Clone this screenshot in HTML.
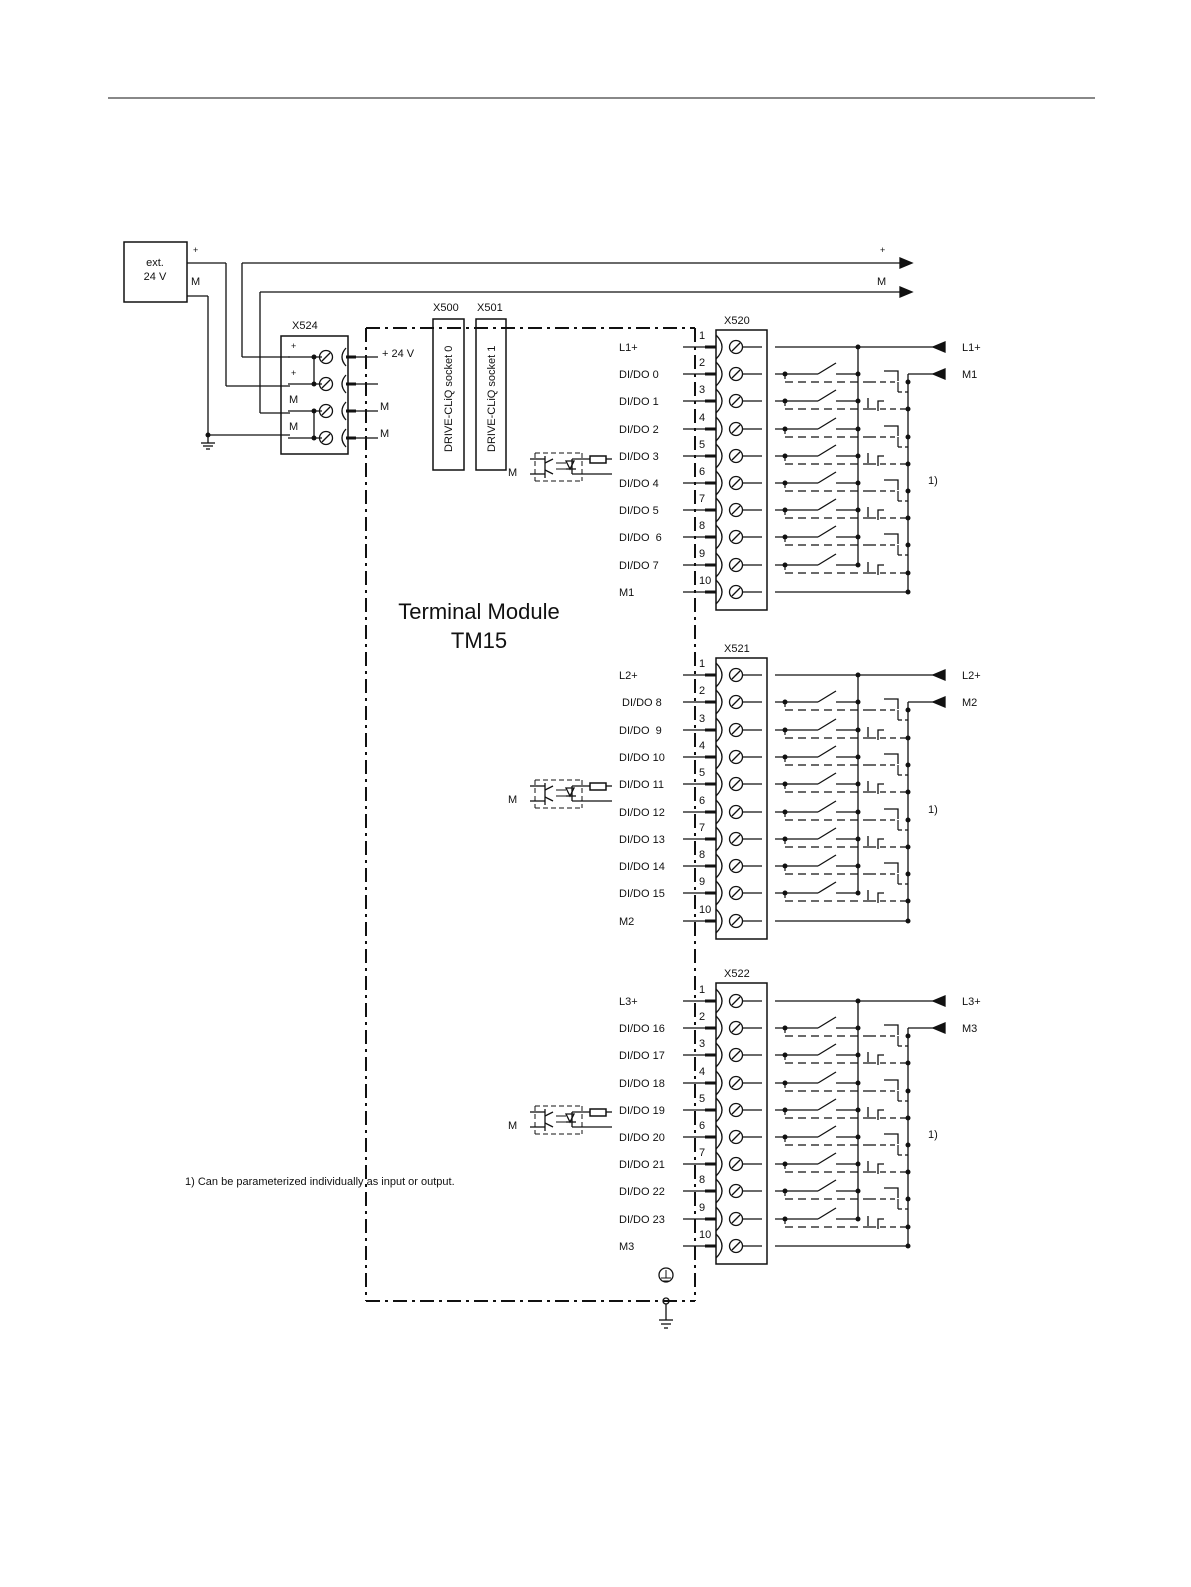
<!DOCTYPE html>
<html><head><meta charset="utf-8"><style>
body{margin:0;background:#fff;}
svg{display:block;font-family:"Liberation Sans",sans-serif;}
</style></head><body>
<svg id="s" width="1191" height="1587" viewBox="0 0 1191 1587" xmlns="http://www.w3.org/2000/svg"></svg>
<script>
var o=[];
function L(x1,y1,x2,y2,w,d){o.push('<line x1="'+x1+'" y1="'+y1+'" x2="'+x2+'" y2="'+y2+'" stroke="#111" stroke-width="'+(w||1.3)+'"'+(d?' stroke-dasharray="'+d+'"':'')+'/>');}
function R(x,y,w,h){o.push('<rect x="'+x+'" y="'+y+'" width="'+w+'" height="'+h+'" fill="none" stroke="#111" stroke-width="1.5"/>');}
function T(x,y,t,s,a){o.push('<text x="'+x+'" y="'+y+'" font-size="'+(s||11)+'" fill="#111"'+(a?' text-anchor="'+a+'"':'')+'>'+t+'</text>');}
function D(x,y){o.push('<circle cx="'+x+'" cy="'+y+'" r="2.5" fill="#111"/>');}
function C(x,y,r){o.push('<circle cx="'+x+'" cy="'+y+'" r="'+r+'" fill="none" stroke="#111" stroke-width="1.3"/>');}
function P(d,f){o.push('<path d="'+d+'" fill="'+(f||'none')+'" stroke="#111" stroke-width="1.3"/>');}
function screw(x,y){C(x,y,6.5);L(x-4,y+4,x+4,y-4);}
function arrL(x,y){P('M'+x+' '+y+' l12 -5 v10 z','#111');}
function arrR(x,y){P('M'+x+' '+y+' l-12 -5 v10 z','#111');}
function gnd(x,y){L(x,y,x,y+8);L(x-7,y+8,x+7,y+8);L(x-5,y+11,x+5,y+11);L(x-2,y+14,x+2,y+14);}
L(108,98,1095,98,1);
R(124,242,63,60);T(155,266,'ext.',11,'middle');T(155,280,'24 V',11,'middle');
T(193,253,'+',9);T(191,285,'M',11);
L(187,263,226,263);L(226,263,226,386);L(226,386,290,386);
L(242,263,905,263);arrR(912,263);L(242,263,242,357);L(242,357,290,357);
T(880,253,'+',9);T(877,285,'M',11);
L(260,292,905,292);arrR(912,292);L(260,292,260,413);L(260,413,290,413);
L(187,296,208,296);L(208,296,208,435);D(208,435);L(208,435,290,435);gnd(208,435);
T(292,329,'X524',11);R(281,336,67,118);
[[357,'+'],[384,'+'],[411,'M'],[438,'M']].forEach(function(r,i){var y=r[0];
 L(288,y,322,y);T(r[1]=='+'?291:289,y-8,r[1],r[1]=='+'?9:11);D(314,y);screw(326,y);
 P('M346 '+(y-9)+' q-8 9 0 18');L(346,y,356,y,3);L(356,y,378,y);});
L(314,357,314,384);L(314,411,314,438);
T(382,357,'+ 24 V',11);T(380,410,'M',11);T(380,437,'M',11);
var dd='14,5,3,5';
L(366,328,695,328,2,dd);L(366,328,366,1301,2,dd);L(695,328,695,1301,2,dd);L(366,1301,695,1301,2,dd);
T(433,311,'X500',11);T(477,311,'X501',11);
R(433,319,31,151);R(476,319,30,151);
o.push('<text transform="translate(452,452) rotate(-90)" font-size="11" fill="#111">DRIVE-CLiQ socket 0</text>');
o.push('<text transform="translate(495,452) rotate(-90)" font-size="11" fill="#111">DRIVE-CLiQ socket 1</text>');
function opto(y){
 T(508,y+20,'M',11);
 L(530,y+3,545,y+3);L(530,y+18,545,y+18);L(545,y,545,y+22);
 L(545,y+7,553,y+3);L(545,y+14,553,y+18);
 L(535,y-3,582,y-3,1,'5,3');L(535,y+25,582,y+25,1,'5,3');L(535,y-3,535,y+25,1,'5,3');L(582,y-3,582,y+25,1,'5,3');
 L(556,y+7,566,y+7,1);L(556,y+13,566,y+13,1);
 P('M566 '+(y+5)+' l8 0 l-4 8 z');L(566,y+13,576,y+13);L(572,y+3,572,y+18);
 L(572,y+3,590,y+3);R(590,y,16,7);L(606,y+3,612,y+3);L(572,y+18,612,y+18);
}
opto(456);opto(783);opto(1109);
function group(name,top,ys,labels,L1,M1){
 var bx=716,bb=ys[9]+18;
 T(724,top-6,name,11);
 o.push('<rect x="'+bx+'" y="'+top+'" width="51" height="'+(bb-top)+'" fill="none" stroke="#111" stroke-width="1.5"/>');
 for(var i=0;i<10;i++){var y=ys[i];
  T(619,y+4,labels[i],11);
  L(683,y,705,y);L(705,y,716,y,3);
  P('M716 '+(y-12)+' q12 12 0 24');
  screw(736,y);L(743,y,762,y);
  T(699,y-8,String(i+1),11);
 }
 var bus1=858,bus2=908;
 L(775,ys[0],945,ys[0]);arrL(933,ys[0]);T(962,ys[0]+4,L1,11);D(bus1,ys[0]);
 L(bus1,ys[0],bus1,ys[8]);
 L(bus2,ys[1],945,ys[1]);arrL(933,ys[1]);T(962,ys[1]+4,M1,11);
 L(bus2,ys[1],bus2,ys[9]);L(775,ys[9],bus2,ys[9]);D(bus2,ys[9]);
 for(var i=1;i<9;i++){var y=ys[i];
  L(775,y,818,y);D(785,y);L(818,y,836,y-11);L(836,y,bus1,y);D(bus1,y);
  L(785,y,785,y+8,1.2,'5,3');L(785,y+8,870,y+8,1.2,'8,5');
  if(i%2==1){
   P('M884 '+(y-3)+' h14 v10');L(870,y+8,895,y+8,1.2,'6,4');L(898,y+8,898,y+18,1.2);L(898,y+18,908,y+18,1.2,'4,3');
  } else {
   P('M868 '+(y-3)+' v10');P('M878 '+(y+10)+' v-10 h6');L(870,y+8,908,y+8,1.2,'6,4');
  }
  D(bus2,y+8);
 }
 T(928,ys[5]+1,'1)',11);
}
function rows(a,s){var r=[];for(var i=0;i<10;i++)r.push(Math.round(a+i*s));return r;}
group('X520',330,rows(347,27.2),['L1+','DI/DO 0','DI/DO 1','DI/DO 2','DI/DO 3','DI/DO 4','DI/DO 5','DI/DO&#160; 6','DI/DO 7','M1'],'L1+','M1');
group('X521',658,rows(675,27.3),['L2+','&#160;DI/DO 8','DI/DO&#160; 9','DI/DO 10','DI/DO 11','DI/DO 12','DI/DO 13','DI/DO 14','DI/DO 15','M2'],'L2+','M2');
group('X522',983,rows(1001,27.2),['L3+','DI/DO 16','DI/DO 17','DI/DO 18','DI/DO 19','DI/DO 20','DI/DO 21','DI/DO 22','DI/DO 23','M3'],'L3+','M3');
T(479,619,'Terminal Module',22,'middle');T(479,648,'TM15',22,'middle');
T(185,1185,'1) Can be parameterized individually as input or output.',11);
C(666,1275,7);L(666,1270,666,1278,1);L(661,1278,671,1278,1);L(662,1281,670,1281,1);
C(666,1301,3);L(666,1304,666,1320);L(659,1320,673,1320);L(661,1324,671,1324);L(664,1328,668,1328);
document.getElementById('s').innerHTML=o.join('');
</script>
</body></html>
